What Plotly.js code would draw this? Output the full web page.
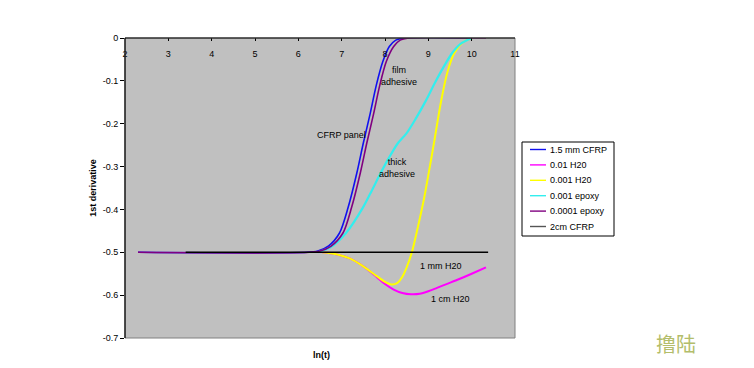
<!DOCTYPE html>
<html><head><meta charset="utf-8">
<script src="https://cdn.plot.ly/plotly-3.0.1.min.js"></script>
<style>html,body{margin:0;padding:0;background:#fff;}#chart{width:754px;height:368px;}</style>
</head><body><div id="chart"></div>
<script>
// Series names (legend order)
const seriesNames = ["1.5 mm CFRP", "0.01 H20", "0.001 H20", "0.001 epoxy", "0.0001 epoxy", "2cm CFRP"];

// 1.5 mm CFRP
const cfrp15X = [2.3, 6.2, 6.45, 6.7, 6.95, 7.15, 7.35, 7.5, 7.65, 7.8, 7.95, 8.1, 8.25, 8.45, 10.0];
const cfrp15Y = [-0.5, -0.5, -0.497, -0.485, -0.455, -0.395, -0.315, -0.245, -0.18, -0.11, -0.055, -0.02, -0.005, 0, 0];
// 0.01 H20
const h2o01X = [6.55, 6.9, 7.2, 7.5, 7.8, 8.0, 8.2, 8.4, 8.6, 8.8, 9.0, 9.2, 9.45, 9.7, 10.0, 10.33];
const h2o01Y = [-0.5, -0.505, -0.515, -0.533, -0.557, -0.574, -0.587, -0.595, -0.598, -0.597, -0.591, -0.583, -0.573, -0.563, -0.55, -0.535];
// 0.001 H20
const h2o001X = [6.55, 6.9, 7.2, 7.5, 7.8, 8.0, 8.15, 8.28, 8.4, 8.5, 8.62, 8.75, 8.9, 9.0, 9.13, 9.29, 9.44, 9.6, 9.8, 10.0];
const h2o001Y = [-0.5, -0.505, -0.515, -0.533, -0.555, -0.569, -0.575, -0.572, -0.557, -0.535, -0.5, -0.445, -0.375, -0.32, -0.245, -0.15, -0.08, -0.035, -0.01, 0];
// 0.001 epoxy
const epoxy001X = [6.45, 6.75, 7.1, 7.5, 7.7, 7.9, 8.1, 8.3, 8.5, 8.7, 8.95, 9.15, 9.35, 9.55, 9.75, 10.0];
const epoxy001Y = [-0.5, -0.488, -0.455, -0.394, -0.355, -0.315, -0.278, -0.245, -0.222, -0.19, -0.145, -0.105, -0.068, -0.035, -0.013, 0];
// 0.0001 epoxy
const epoxy0001X = [2.3, 6.25, 6.5, 6.75, 7.03, 7.23, 7.43, 7.58, 7.73, 7.88, 8.03, 8.2, 8.35, 8.55, 10.33];
const epoxy0001Y = [-0.5, -0.5, -0.497, -0.486, -0.455, -0.395, -0.315, -0.245, -0.18, -0.11, -0.055, -0.02, -0.005, 0, 0];
// 2cm CFRP
const cfrp2X = [3.4, 10.38];
const cfrp2Y = [-0.5, -0.5];

const xTicks = [2, 3, 4, 5, 6, 7, 8, 9, 10, 11];
const yTicks = [0, -0.1, -0.2, -0.3, -0.4, -0.5, -0.6, -0.7];
const yTickText = ["0", "-0.1", "-0.2", "-0.3", "-0.4", "-0.5", "-0.6", "-0.7"];

const colors = ["#1010f0", "#ff00ff", "#ffff00", "#33eeee", "#800080", "#000000"];
const legendColors = ["#1010f0", "#ff00ff", "#ffff00", "#33eeee", "#800080", "#555555"];
const widths = [1.6, 2, 2, 2.2, 1.6, 1.6];
const xs = [cfrp15X, h2o01X, h2o001X, epoxy001X, epoxy0001X, cfrp2X];
const ys = [cfrp15Y, h2o01Y, h2o001Y, epoxy001Y, epoxy0001Y, cfrp2Y];

const traces = seriesNames.map((n, i) => ({
  x: xs[i], y: ys[i], name: n, type: "scatter", mode: "lines", showlegend: false,
  line: {color: colors[i], width: widths[i], shape: "spline", smoothing: 0.8}
}));

const F = "Liberation Sans, Arial, sans-serif";
const W = 754, H = 368, ML = 125, MR = 239, MT = 38, MB = 30;
const PW = W - ML - MR, PH = H - MT - MB;
const px = v => (v - ML) / PW;          // pixel x -> paper x
const py = v => (H - MB - v) / PH;      // pixel y -> paper y

// Manual legend (compact, like the original)
const legShapes = [{type: "rect", xref: "paper", yref: "paper", x0: px(522), x1: px(614), y0: py(142), y1: py(236),
  line: {color: "#000", width: 1}, fillcolor: "#fff", layer: "above"}];
const legAnn = [];
seriesNames.forEach((n, i) => {
  const yy = 149.5 + i * 15.4;
  legShapes.push({type: "line", xref: "paper", yref: "paper", x0: px(530), x1: px(546), y0: py(yy), y1: py(yy),
    line: {color: legendColors[i], width: 1.4}, layer: "above"});
  legAnn.push({text: n, xref: "paper", yref: "paper", x: px(548), y: py(yy), xanchor: "left", yanchor: "middle",
    showarrow: false, font: {family: F, size: 9, color: "#000"}});
});

const layout = {
  width: W, height: H,
  margin: {l: ML, r: MR, t: MT, b: MB},
  paper_bgcolor: "#ffffff", plot_bgcolor: "#c0c0c0",
  font: {family: F, size: 9, color: "#000"},
  showlegend: false,
  xaxis: {range: [2, 11], side: "top", tickvals: xTicks, ticktext: xTicks.map(String),
    ticks: "inside", ticklen: 3, tickcolor: "#000", ticklabelposition: "outside", ticklabelstandoff: -22,
    showgrid: false, zeroline: false, showline: false, tickfont: {family: F, size: 9}},
  yaxis: {range: [-0.7, 0], tickvals: yTicks, ticktext: yTickText, ticks: "outside",
    ticklen: 4, tickcolor: "#000", showgrid: false, zeroline: false, showline: false,
    tickfont: {family: F, size: 9},
    title: {text: "<b>1st derivative</b>", font: {family: F, size: 9}, standoff: 4}},
  shapes: [
    {type: "rect", xref: "paper", yref: "paper", x0: 0, x1: 1, y0: 0, y1: 1, line: {color: "#808080", width: 1}, layer: "above"},
    {type: "line", xref: "paper", yref: "paper", x0: 0, x1: 0, y0: 0, y1: 1, line: {color: "#000", width: 1.2}, layer: "above"},
    {type: "line", xref: "paper", yref: "paper", x0: 0, x1: 1, y0: 1, y1: 1, line: {color: "#000", width: 1.2}, layer: "above"}
  ].concat(legShapes),
  annotations: [
    {text: "<b>ln(t)</b>", xref: "paper", yref: "paper", x: px(321), y: py(355), xanchor: "center", yanchor: "middle", showarrow: false, font: {family: F, size: 9}},
    {text: "film<br>adhesive", xref: "x", yref: "y", x: 8.32, y: -0.089, showarrow: false, font: {family: F, size: 9}},
    {text: "CFRP panel", xref: "x", yref: "y", x: 7.0, y: -0.226, showarrow: false, font: {family: F, size: 9}},
    {text: "thick<br>adhesive", xref: "x", yref: "y", x: 8.28, y: -0.303, showarrow: false, font: {family: F, size: 9}},
    {text: "1 mm H20", xref: "x", yref: "y", x: 9.29, y: -0.532, showarrow: false, font: {family: F, size: 9}},
    {text: "1 cm H20", xref: "x", yref: "y", x: 9.5, y: -0.609, showarrow: false, font: {family: F, size: 9}},
    {text: "撸陆", xref: "paper", yref: "paper", x: px(676), y: py(343), xanchor: "center", yanchor: "middle", showarrow: false,
      font: {family: "Noto Sans CJK SC", size: 20, color: "#b3bd6a"}}
  ].concat(legAnn)
};
Plotly.newPlot("chart", traces, layout, {displayModeBar: false, staticPlot: true});
</script></body></html>
